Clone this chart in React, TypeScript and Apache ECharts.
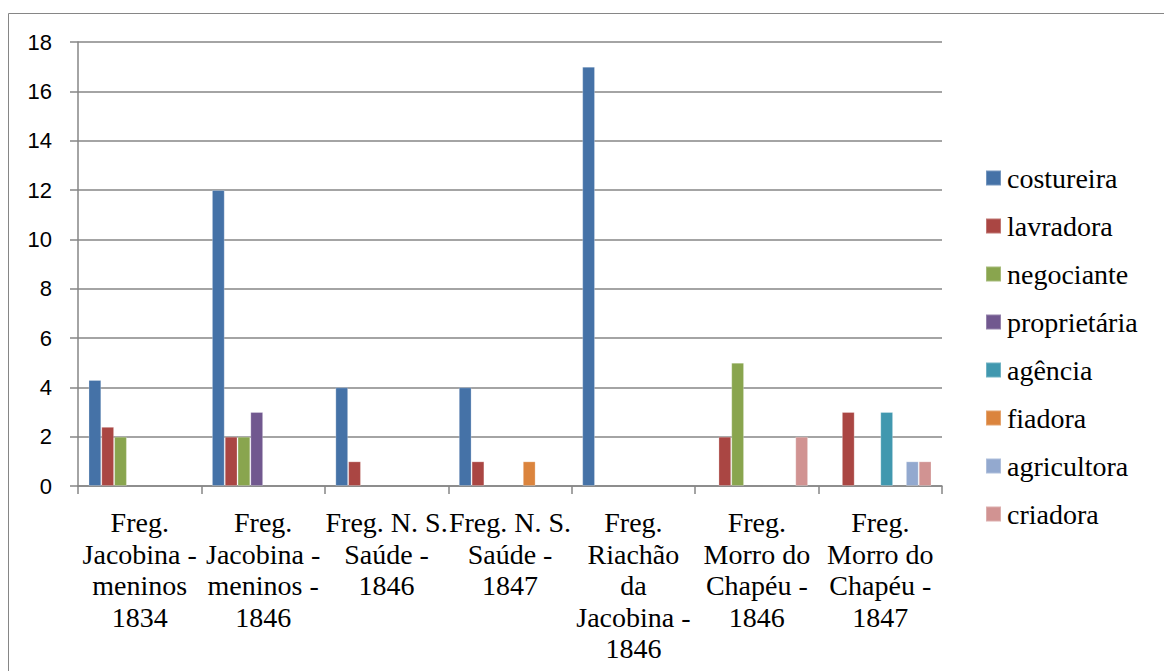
import React, { useEffect, useRef } from "react";
import * as echarts from "echarts";

const categories = [
  "Freg.\nJacobina -\nmeninos\n1834",
  "Freg.\nJacobina -\nmeninos -\n1846",
  "Freg. N. S.\nSaúde -\n1846",
  "Freg. N. S.\nSaúde -\n1847",
  "Freg.\nRiachão\nda\nJacobina -\n1846",
  "Freg.\nMorro do\nChapéu -\n1846",
  "Freg.\nMorro do\nChapéu -\n1847",
];

const seriesNames = [
  "costureira",
  "lavradora",
  "negociante",
  "proprietária",
  "agência",
  "fiadora",
  "agricultora",
  "criadora",
];

const costureira = [4.3, 12, 4, 4, 17, null, null];
const lavradora = [2.4, 2, 1, 1, null, 2, 3];
const negociante = [2, 2, null, null, null, 5, null];
const proprietaria = [null, 3, null, null, null, null, null];
const agencia = [null, null, null, null, null, null, 3];
const fiadora = [null, null, null, 1, null, null, null];
const agricultora = [null, null, null, null, null, null, 1];
const criadora = [null, null, null, null, null, 2, 1];

const seriesData = [costureira, lavradora, negociante, proprietaria, agencia, fiadora, agricultora, criadora];

const colors = ["#4572A7", "#AA4643", "#89A54E", "#71588F", "#4198AF", "#DB843D", "#93A9CF", "#D19392"];

export default function App() {
  const ref = useRef<HTMLDivElement>(null);
  useEffect(() => {
    if (!ref.current) return;
    const chart = echarts.init(ref.current, null, { renderer: "svg" });
    chart.setOption({
      animation: false,
      color: colors,
      graphic: [
        {
          type: "rect",
          shape: { x: 8.5, y: 13.5, width: 1160, height: 670 },
          style: { fill: "none", stroke: "#868686", lineWidth: 1 },
          silent: true,
        },
      ],
      grid: { left: 78, top: 42, width: 864, height: 444, containLabel: false },
      legend: {
        orient: "vertical",
        left: 985,
        top: 163,
        padding: 0,
        itemWidth: 15,
        itemHeight: 15,
        itemGap: 18,
        icon: "rect",
        textStyle: { fontFamily: "Liberation Serif", fontSize: 28, lineHeight: 30, color: "#000", padding: [0, 0, 0, 1] },
        data: seriesNames,
      },
      xAxis: {
        type: "category",
        data: categories,
        axisLine: { lineStyle: { color: "#868686", width: 1.5 } },
        axisTick: { show: true, length: 8, lineStyle: { color: "#868686", width: 1.5 } },
        axisLabel: {
          interval: 0,
          fontFamily: "Liberation Serif",
          fontSize: 28,
          color: "#000",
          lineHeight: 31.5,
          margin: 21,
          align: "center",
        },
      },
      yAxis: {
        type: "value",
        min: 0,
        max: 18,
        interval: 2,
        axisLine: { show: true, lineStyle: { color: "#868686", width: 1.5 } },
        axisTick: { show: true, length: 8, lineStyle: { color: "#868686", width: 1.5 } },
        splitLine: { lineStyle: { color: "#868686", width: 1.5 } },
        axisLabel: { fontFamily: "Liberation Sans", fontSize: 22, color: "#000", margin: 26 },
      },
      series: seriesNames.map((name, i) => ({
        name,
        type: "bar",
        data: seriesData[i],
        barGap: "0%",
        barCategoryGap: "17%",
        itemStyle: { borderColor: "rgba(255,255,255,0.25)", borderWidth: 1 },
      })),
    });
    return () => chart.dispose();
  }, []);
  return (
    <div
      ref={ref}
      style={{ position: "fixed", left: 0, top: 0, width: 1164, height: 671, background: "#fff" }}
    />
  );
}
